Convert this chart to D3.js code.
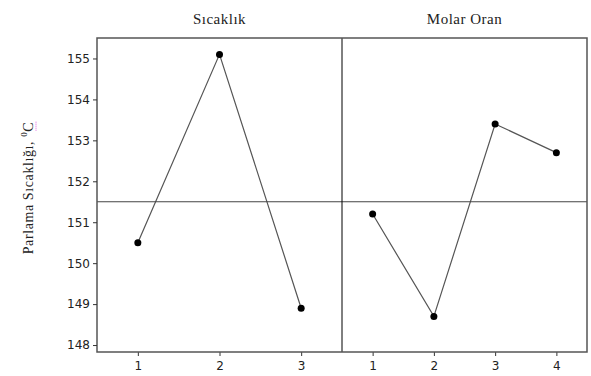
<!DOCTYPE html>
<html>
<head>
<meta charset="utf-8">
<script src="https://cdn.jsdelivr.net/npm/d3@7"></script>
<style>
body { margin:0; background:#fff; }
.title { font-family:"Liberation Serif", "DejaVu Serif", serif; font-size:15px; fill:#222; letter-spacing:0.5px; }
.label { font-family:"Liberation Serif", "DejaVu Serif", serif; font-size:14px; fill:#222; letter-spacing:0.6px; }
.tick text { font-family:"DejaVu Sans", sans-serif; font-size:12px; fill:#222; }
</style>
</head>
<body>
<svg id="graph1"></svg>
<script>
var panels = ["Sıcaklık", "Molar Oran"]
var sicaklikLevels = [1, 2, 3]
var sicaklikValues = [150.5, 155.1, 148.9]
var molarLevels = [1, 2, 3, 4]
var molarValues = [151.2, 148.7, 153.4, 152.7]
var yTicks = [148, 149, 150, 151, 152, 153, 154, 155]
var meanLine = 151.5

var screen = {width: 591, height: 376}
var margins = {left: 97, right: 4, top: 38, bottom: 24}
var graph = {
    width: screen.width - margins.left - margins.right,
    height: screen.height - margins.top - margins.bottom
}

var svg = d3.select("#graph1")
    .attr("width", screen.width)
    .attr("height", screen.height)

var target = svg.append("g")
    .attr("transform", "translate(" + margins.left + "," + margins.top + ")")

var yScale = d3.scaleLinear()
    .domain([147.83, 155.5])
    .range([graph.height, 0])

var panelScale = d3.scaleBand()
    .domain(panels)
    .range([0, graph.width])

var drawPanel = function(name, levels, values)
{
    var x0 = panelScale(name)
    var w = panelScale.bandwidth()
    var xScale = d3.scaleLinear()
        .domain([0.5, levels.length + 0.5])
        .range([0, w])

    var g = target.append("g")
        .attr("transform", "translate(" + x0 + ",0)")

    var xAxis = d3.axisBottom(xScale)
        .tickValues(levels)
        .tickFormat(d3.format("d"))
        .tickSizeOuter(0)
        .tickSize(4)
        .tickPadding(5)

    var ax = g.append("g")
        .attr("transform", "translate(0," + graph.height + ")")
        .call(xAxis)
    ax.select(".domain").remove()
    ax.selectAll(".tick line").attr("stroke", "#333")

    var pts = levels.map(function(l, i) { return {x: l, y: values[i]} })

    g.append("path")
        .datum(pts)
        .attr("fill", "none")
        .attr("stroke", "#555")
        .attr("stroke-width", 1.2)
        .attr("d", d3.line()
            .x(function(d) { return xScale(d.x) })
            .y(function(d) { return yScale(d.y) }))

    g.selectAll("circle")
        .data(pts)
        .enter()
        .append("circle")
        .attr("cx", function(d) { return xScale(d.x) })
        .attr("cy", function(d) { return yScale(d.y) })
        .attr("r", 3.5)
        .attr("fill", "#000")

    svg.append("text")
        .text(name)
        .classed("title", true)
        .attr("text-anchor", "middle")
        .attr("x", margins.left + x0 + w / 2)
        .attr("y", 24)
}

drawPanel(panels[0], sicaklikLevels, sicaklikValues)
drawPanel(panels[1], molarLevels, molarValues)

// mean reference line
target.append("line")
    .attr("x1", 0)
    .attr("x2", graph.width)
    .attr("y1", yScale(meanLine))
    .attr("y2", yScale(meanLine))
    .attr("stroke", "#444")
    .attr("stroke-width", 1)

// panel divider
target.append("line")
    .attr("x1", panelScale(panels[1]))
    .attr("x2", panelScale(panels[1]))
    .attr("y1", 0)
    .attr("y2", graph.height)
    .attr("stroke", "#000")
    .attr("stroke-width", 1)

// frame
target.append("rect")
    .attr("x", 0)
    .attr("y", 0)
    .attr("width", graph.width)
    .attr("height", graph.height)
    .attr("fill", "none")
    .attr("stroke", "#555")
    .attr("stroke-width", 1.5)

var yAxis = d3.axisLeft(yScale)
    .tickValues(yTicks)
    .tickSize(4)
    .tickPadding(3)
var yAx = target.append("g").call(yAxis)
yAx.select(".domain").remove()
yAx.selectAll(".tick line").attr("stroke", "#333")

// y label
var lab = svg.append("g")
    .attr("transform", "translate(33," + (margins.top + 150) + ") rotate(-90)")
var t = lab.append("text")
    .classed("label", true)
    .attr("text-anchor", "middle")
t.append("tspan").text("Parlama Sıcaklığı, ")
t.append("tspan").text("0").attr("font-size", "9px").attr("dy", -6)
var cSpan = t.append("tspan").text("C").attr("dy", 6)

// spell-check style dotted underline under the unit
var bb = cSpan.node().getBBox ? t.node().getBBox() : null
if (bb) {
    lab.append("line")
        .attr("x1", bb.x + bb.width - 9)
        .attr("x2", bb.x + bb.width)
        .attr("y1", 3)
        .attr("y2", 3)
        .attr("stroke", "#e060e0")
        .attr("stroke-width", 1)
        .attr("stroke-dasharray", "1,1")
}
</script>
</body>
</html>
